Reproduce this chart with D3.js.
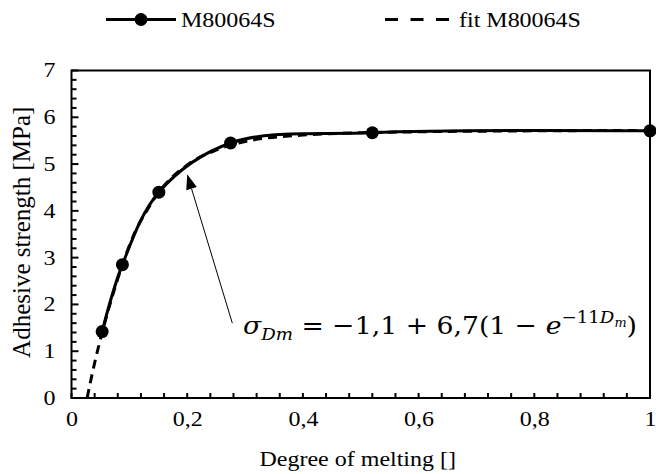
<!DOCTYPE html>
<html><head><meta charset="utf-8">
<script src="https://cdn.jsdelivr.net/npm/d3@7"></script>
<style>
body{margin:0;background:#fff}
svg text{font-family:"Liberation Serif","Times New Roman",Times,serif;fill:#000}
svg text.eq{font-family:"DejaVu Serif",serif}
</style></head>
<body><svg id="c" width="656" height="474"></svg>
<script>
// data
const degree = [0.053, 0.088, 0.151, 0.275, 0.52, 1.0];
const strength = [1.42, 2.85, 4.40, 5.45, 5.67, 5.71];
const fitDegree = [0.027, 0.04, 0.053, 0.07, 0.088, 0.11, 0.13, 0.151, 0.2, 0.25, 0.3, 0.4, 0.5, 0.6, 0.8, 1.0];
const fitStrength = [0, 0.75, 1.4, 2.15, 2.85, 3.55, 4.0, 4.4, 4.98, 5.3, 5.48, 5.62, 5.67, 5.69, 5.71, 5.72];
const xTickLabels = [0, 0.2, 0.4, 0.6, 0.8, 1];
const yTickLabels = [0, 1, 2, 3, 4, 5, 6, 7];
const seriesNames = ["M80064S", "fit M80064S"];
const arrowFrom = [0.278, 1.6], arrowTo = [0.2, 4.78];

const svg = d3.select("#c");
const L = 71.5, R = 650, T = 70.5, B = 398;
const x = d3.scaleLinear().domain([0, 1]).range([L, R]);
const y = d3.scaleLinear().domain([0, 7]).range([B, T]);
const SX = 1.2;
const fmt = d => (d === 0 || d === 1) ? String(d) : d3.format(".1f")(d).replace(".", ",");
// horizontal widening of serif text (the reference is stretched sideways)
function widen(sel, k) {
  sel.each(function () {
    const ax = +(this.getAttribute("x") || 0), ay = +(this.getAttribute("y") || 0);
    d3.select(this).attr("transform", `translate(${ax},${ay}) rotate(0.01) scale(${k},1) translate(${-ax},${-ay})`);
  });
}

// minor ticks
const xMinor = d3.range(0, 1.0001, 0.04);
svg.append("g").selectAll("line").data(xMinor).join("line")
  .attr("x1", d => x(d)).attr("x2", d => x(d)).attr("y1", B).attr("y2", B - 5)
  .attr("stroke", "#000").attr("stroke-width", 2);
const yMinor = d3.range(0, 7.0001, 0.2);
svg.append("g").selectAll("line").data(yMinor).join("line")
  .attr("y1", d => y(d)).attr("y2", d => y(d)).attr("x1", L)
  .attr("x2", d => L + (Math.abs(d - Math.round(d)) < 1e-6 ? 7 : 5))
  .attr("stroke", "#000").attr("stroke-width", 2);

// frame
svg.append("rect").attr("x", L).attr("y", T).attr("width", R - L).attr("height", B - T)
  .attr("fill", "none").attr("stroke", "#000").attr("stroke-width", 2);

// tick labels via axes
const gx = svg.append("g").attr("transform", `translate(0,${B})`)
  .call(d3.axisBottom(x).tickValues(xTickLabels).tickFormat(fmt).tickSize(0).tickPadding(14));
gx.select(".domain").remove();
gx.attr("font-family", null).attr("font-size", null);
gx.selectAll("text").attr("font-size", 20);
widen(gx.selectAll("text"), SX);
const gy = svg.append("g").attr("transform", `translate(${L},0)`)
  .call(d3.axisLeft(y).tickValues(yTickLabels).tickFormat(d3.format("d")).tickSize(0).tickPadding(16));
gy.select(".domain").remove();
gy.attr("font-family", null).attr("font-size", null);
gy.selectAll("text").attr("font-size", 20);
widen(gy.selectAll("text"), SX);

// fit (dashed)
const fitPts = fitDegree.map((d, i) => [d, fitStrength[i]]);
svg.append("path").datum(fitPts)
  .attr("d", d3.line().x(d => x(d[0])).y(d => y(d[1])).curve(d3.curveMonotoneX))
  .attr("fill", "none").attr("stroke", "#000").attr("stroke-width", 3).attr("stroke-dasharray", "9,6");

// data (solid, smoothed)
const pts = degree.map((d, i) => [d, strength[i]]);
svg.append("path").datum(pts)
  .attr("d", d3.line().x(d => x(d[0])).y(d => y(d[1])).curve(d3.curveCatmullRom.alpha(0.5)))
  .attr("fill", "none").attr("stroke", "#000").attr("stroke-width", 3);
svg.append("g").selectAll("circle").data(pts).join("circle")
  .attr("cx", d => x(d[0])).attr("cy", d => y(d[1])).attr("r", 6.5).attr("fill", "#000");

// arrow
const ax1 = x(arrowFrom[0]), ay1 = y(arrowFrom[1]), ax2 = x(arrowTo[0]), ay2 = y(arrowTo[1]);
const ang = Math.atan2(ay2 - ay1, ax2 - ax1), hl = 15, hw = 5.5;
const bx = ax2 - hl * Math.cos(ang), by = ay2 - hl * Math.sin(ang);
svg.append("line").attr("x1", ax1).attr("y1", ay1).attr("x2", bx).attr("y2", by)
  .attr("stroke", "#000").attr("stroke-width", 1);
svg.append("path").attr("d", `M${ax2},${ay2}L${bx + hw * Math.sin(ang)},${by - hw * Math.cos(ang)}L${bx - hw * Math.sin(ang)},${by + hw * Math.cos(ang)}Z`)
  .attr("fill", "#000");

// equation
const eq = svg.append("text").attr("class", "eq").attr("x", 243).attr("y", 334).attr("font-size", 25);
eq.append("tspan").attr("font-style", "italic").text("σ");
eq.append("tspan").attr("font-style", "italic").attr("font-size", 17).attr("dy", 6).text("Dm");
eq.append("tspan").attr("dy", -6).text(" = −1,1 + 6,7(1 − ");
eq.append("tspan").attr("font-style", "italic").text("e");
eq.append("tspan").attr("font-size", 17).attr("dy", -11).text("−11");
eq.append("tspan").attr("font-size", 17).attr("font-style", "italic").text("D");
eq.append("tspan").attr("font-size", 12).attr("font-style", "italic").attr("dy", 4).text("m");
eq.append("tspan").attr("dy", 7).text(")");
eq.attr("textLength", 394).attr("lengthAdjust", "spacingAndGlyphs");

// axis titles
const xt = svg.append("text").attr("x", (L + R) / 2 - 3).attr("y", 466).attr("text-anchor", "middle")
  .attr("font-size", 20).text("Degree of melting []");
widen(xt, SX);
svg.append("text").attr("transform", `translate(30,${(T + B) / 2 - 2}) rotate(-90)`).attr("text-anchor", "middle")
  .attr("font-size", 25).text("Adhesive strength [MPa]");

// legend
const lg = svg.append("g");
lg.append("line").attr("x1", 106).attr("x2", 176).attr("y1", 19.5).attr("y2", 19.5).attr("stroke", "#000").attr("stroke-width", 3);
lg.append("circle").attr("cx", 141).attr("cy", 19.5).attr("r", 6.5).attr("fill", "#000");
widen(lg.append("text").attr("x", 181).attr("y", 27).attr("font-size", 20).text(seriesNames[0]), SX);
lg.append("line").attr("x1", 385).attr("x2", 453).attr("y1", 19.5).attr("y2", 19.5).attr("stroke", "#000").attr("stroke-width", 3).attr("stroke-dasharray", "13,12.5");
widen(lg.append("text").attr("x", 459).attr("y", 27).attr("font-size", 20).text(seriesNames[1]), SX);
</script></body></html>
